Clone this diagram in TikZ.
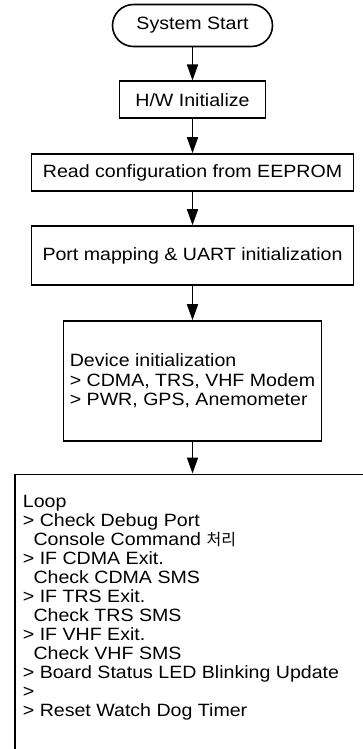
\documentclass[tikz,border=0pt]{standalone}
\usepackage{fontspec}
\setmainfont{Liberation Sans}[FakeStretch=1.1]
\newfontfamily\kofont{Noto Sans CJK KR}
\usetikzlibrary{arrows.meta,shapes.misc}
\begin{document}
\begin{tikzpicture}[x=1pt,y=-1pt,
  box/.style={draw, line width=1.6pt, inner sep=0pt, font=\fontsize{17.8}{19.6}\selectfont},
  term/.style={box, rounded rectangle},
  flow/.style={-{Triangle[length=16pt,width=11pt]}, line width=1.6pt},
  txt/.style={inner sep=0pt, align=left, font=\fontsize{17.8}{19}\selectfont}]
\useasboundingbox (0,0) rectangle (363,749);
\clip (0,0) rectangle (363,749);
\node[term, minimum width=160pt, minimum height=42pt] (start) at (192.5,25.5) {System Start};
\node[box, minimum width=146pt, minimum height=37pt] (hw) at (192.5,99.8) {H/W Initialize};
\node[box, minimum width=322pt, minimum height=37pt] (read) at (192.5,172.5) {Read configuration from EEPROM};
\node[box, minimum width=322pt, minimum height=59pt] (port) at (192.5,255.5) {Port mapping \& UART initialization};
\node[box, align=left, minimum width=258pt, minimum height=120pt] (dev) at (192.5,381) {Device initialization\\> CDMA, TRS, VHF Modem\\> PWR, GPS, Anemometer};
\node[box, anchor=north west, minimum width=420pt, minimum height=320pt] (loop) at (14,473.5) {};
\node[txt, anchor=base west] (looptext) at (22.7,716.3) {Loop\\
> Check Debug Port\\
\hspace*{10.6pt}Console Command \smash{\kofont\fontsize{16}{18.9}\selectfont 처리}\\
> IF CDMA Exit.\\
\hspace*{10.6pt}Check CDMA SMS\\
> IF TRS Exit.\\
\hspace*{10.6pt}Check TRS SMS\\
> IF VHF Exit.\\
\hspace*{10.6pt}Check VHF SMS\\
> Board Status LED Blinking Update\\
>\\
> Reset Watch Dog Timer};
\draw[flow] (start.south) -- (hw.north);
\draw[flow] (hw.south) -- (read.north);
\draw[flow] (read.south) -- (port.north);
\draw[flow] (port.south) -- (dev.north);
\draw[flow] (dev.south) -- (dev.south |- loop.north);
\end{tikzpicture}
\end{document}
